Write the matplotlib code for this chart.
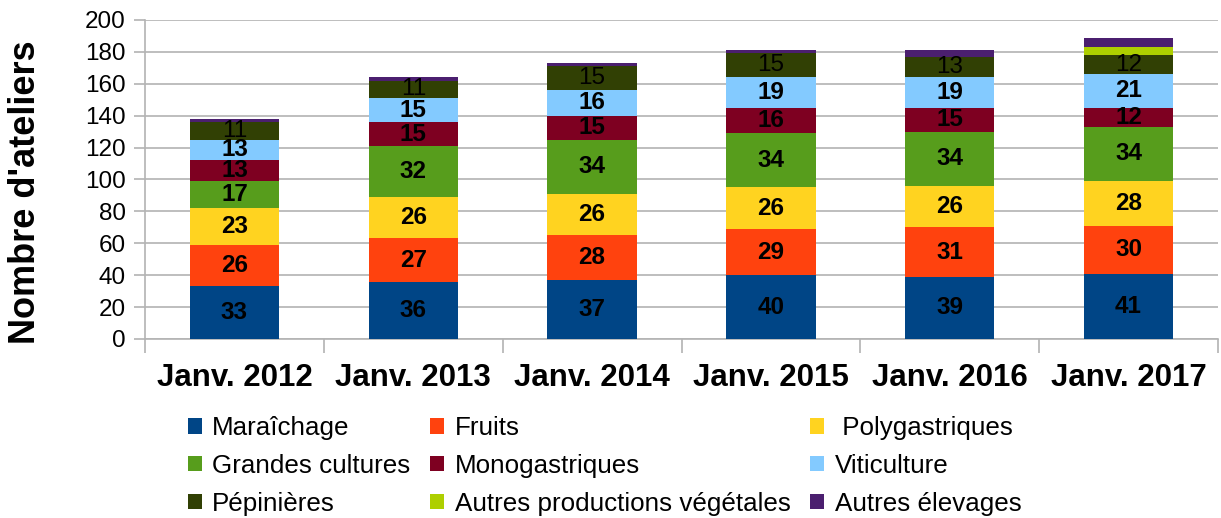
import matplotlib
matplotlib.use('Agg')
import matplotlib.pyplot as plt
import numpy as np

plt.rcParams['font.family'] = ['Liberation Sans', 'DejaVu Sans']

annees = ['Janv. 2012', 'Janv. 2013', 'Janv. 2014', 'Janv. 2015', 'Janv. 2016', 'Janv. 2017']

series = ['Maraîchage', 'Fruits', ' Polygastriques', 'Grandes cultures', 'Monogastriques',
          'Viticulture', 'Pépinières', 'Autres productions végétales', 'Autres élevages']

maraichage = [33, 36, 37, 40, 39, 41]
fruits = [26, 27, 28, 29, 31, 30]
polygastriques = [23, 26, 26, 26, 26, 28]
grandes_cultures = [17, 32, 34, 34, 34, 34]
monogastriques = [13, 15, 15, 16, 15, 12]
viticulture = [13, 15, 16, 19, 19, 21]
pepinieres = [11, 11, 15, 15, 13, 12]
autres_vegetales = [0, 0, 0, 0, 0, 5]
autres_elevages = [2, 2, 2, 2, 4, 6]

valeurs = [maraichage, fruits, polygastriques, grandes_cultures, monogastriques,
           viticulture, pepinieres, autres_vegetales, autres_elevages]
couleurs = ['#004586', '#ff420e', '#ffd320', '#579d1c', '#7e0021',
            '#83caff', '#314004', '#aecf00', '#4b1f6f']

fig = plt.figure(figsize=(12.21, 5.18), dpi=100)
ax = fig.add_axes([0.1188, 0.3456, 0.8787, 0.6158])

x = np.arange(len(annees))
bas = np.zeros(len(annees))
barres = []
for i, (nom, v, c) in enumerate(zip(series, valeurs, couleurs)):
    b = ax.bar(x, v, 0.5, bottom=bas, color=c, label=nom, zorder=3)
    barres.append(b)
    if i < 7:
        poids = 'normal' if i == 6 else 'bold'
        for xi, yi, vi in zip(x, bas, v):
            ax.text(xi, yi + vi / 2, str(vi), ha='center', va='center',
                    fontsize=17.5, fontweight=poids, color='black', zorder=4)
    bas += np.array(v)

ax.set_xlim(-0.5, len(annees) - 0.5)
ax.set_ylim(0, 200)
ax.set_yticks(range(0, 201, 20))
ax.yaxis.grid(True, color='#b3b3b3', linewidth=1.2, zorder=0)
ax.set_xticks(x)
ax.set_xticklabels(annees, fontsize=22.5, fontweight='bold')
ax.set_xticks(np.arange(-0.5, len(annees)), minor=True)
ax.tick_params(axis='x', which='major', length=0, pad=17)
ax.tick_params(axis='x', which='minor', length=10, color='#b3b3b3', width=1.2)
ax.tick_params(axis='y', labelsize=17.5, length=8, color='#b3b3b3', width=1.2, pad=6)
ax.set_ylabel("Nombre d'ateliers", fontsize=26, fontweight='bold')
ax.yaxis.set_label_coords(-0.095, 0.46)

for s in ['top', 'right']:
    ax.spines[s].set_visible(False)
for s in ['left', 'bottom']:
    ax.spines[s].set_color('#b3b3b3')
    ax.spines[s].set_linewidth(1.2)

ordre = [0, 3, 6, 1, 4, 7, 2, 5, 8]
fig.legend([barres[k] for k in ordre], [series[k] for k in ordre],
           loc='upper left', bbox_to_anchor=(0.143, 0.222), ncol=3, frameon=False,
           fontsize=18.7, handlelength=0.55, handleheight=0.55, handletextpad=0.4,
           columnspacing=0.75, labelspacing=0.53, borderpad=0)

fig.savefig('out.png', dpi=100)
